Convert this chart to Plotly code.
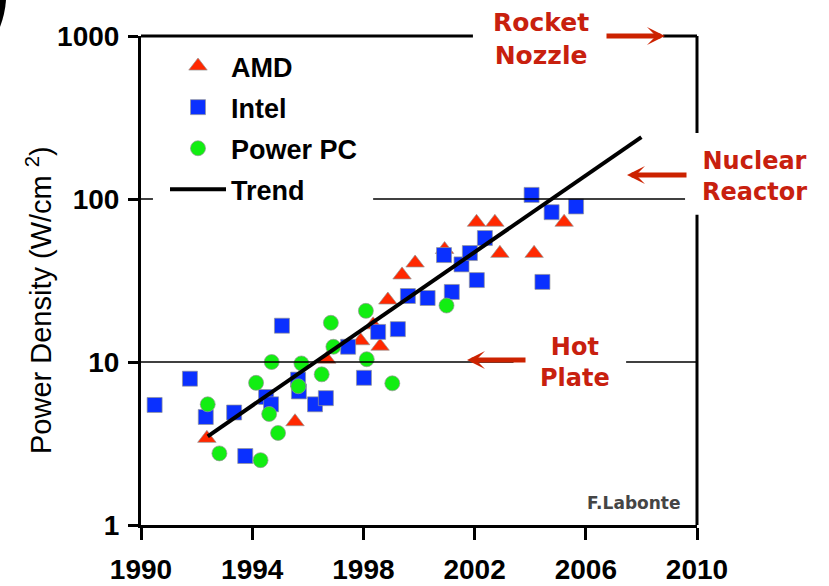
import math
import plotly.graph_objects as go

# ---- data -----------------------------------------------------------------
amd_year = [1992.37, 1995.54, 1996.68, 1997.90, 1998.35, 1998.60, 1998.88,
            1999.39, 1999.86, 2000.92, 2002.07, 2002.73, 2002.91, 2004.14, 2005.22]
amd_power = [3.4, 4.3, 10.4, 13.5, 16.9, 12.5, 24.0,
             34.2, 40.5, 49.0, 72.0, 72.0, 46.4, 46.4, 72.0]

intel_year = [1990.49, 1991.76, 1992.33, 1993.35, 1993.75, 1994.50, 1994.68,
              1995.07, 1995.65, 1995.68, 1996.26, 1996.65, 1997.45, 1998.02,
              1998.53, 1999.24, 1999.60, 2000.31, 2000.90, 2001.18, 2001.53,
              2001.83, 2002.08, 2002.37, 2004.05, 2004.44, 2004.77, 2005.65]
intel_power = [5.45, 7.9, 4.6, 4.9, 2.65, 6.1, 5.5,
               16.7, 7.8, 6.6, 5.5, 6.0, 12.4, 8.0,
               15.3, 15.9, 25.4, 24.7, 45.3, 26.9, 39.7,
               46.6, 31.8, 57.6, 106.0, 31.0, 83.0, 90.0]

ppc_year = [1992.40, 1992.82, 1994.14, 1994.30, 1994.61, 1994.70, 1994.93,
            1995.66, 1995.77, 1996.50, 1996.83, 1996.92, 1998.09, 1998.12,
            1999.04, 2000.99]
ppc_power = [5.5, 2.75, 7.45, 2.5, 4.8, 10.0, 3.67,
             7.1, 9.8, 8.4, 17.4, 12.4, 20.6, 10.4,
             7.4, 22.2]

trend_year = [1992.4, 2008.0]
trend_power = [3.5, 240.0]

x_ticks = [1990, 1994, 1998, 2002, 2006, 2010]
y_ticks = [1, 10, 100, 1000]
y_tick_text = ["1", "10", "100", "1000"]

# ---- layout geometry ------------------------------------------------------
W, H = 829, 586
L, R, T, B = 141, 697, 36, 525          # plot area in pixels
X_RANGE = (1990, 2010)
Y_RANGE = (0, 3)                        # log10 range

def px(x):            # pixel -> paper x
    return (x - L) / (R - L)

def py(y):            # pixel -> paper y
    return (B - y) / (B - T)

def dx(year):         # data year -> paper x
    return (year - X_RANGE[0]) / (X_RANGE[1] - X_RANGE[0])

def dy(val):          # data value -> paper y (log axis)
    return (math.log10(val) - Y_RANGE[0]) / (Y_RANGE[1] - Y_RANGE[0])

SANS = "Liberation Sans, Arial, sans-serif"
BOLD = "DejaVu Sans, Verdana, sans-serif"
RED = "#c8200e"
OUTLINE = dict(color="rgba(150,150,150,0.7)", width=1)

fig = go.Figure()
fig.add_trace(go.Scatter(
    x=amd_year, y=amd_power, mode="markers", name="AMD", legendgroup="a",
    marker=dict(symbol="triangle-up", size=16, color="#ff2800", line=OUTLINE)))
fig.add_trace(go.Scatter(
    x=intel_year, y=intel_power, mode="markers", name="Intel", legendgroup="b",
    marker=dict(symbol="square", size=15, color="#0a30ff", line=OUTLINE)))
fig.add_trace(go.Scatter(
    x=ppc_year, y=ppc_power, mode="markers", name="Power PC", legendgroup="c",
    marker=dict(symbol="circle", size=15, color="#12ee12", line=OUTLINE)))
fig.add_trace(go.Scatter(
    x=trend_year, y=trend_power, mode="lines", name="Trend", legendgroup="d",
    line=dict(color="black", width=4)))

shapes = []
# frame pieces that are interrupted by the labels
line3 = dict(color="black", width=3)
shapes.append(dict(type="line", xref="paper", yref="paper",
                   x0=0, x1=dx(2001.94), y0=1, y1=1, line=line3))
shapes.append(dict(type="line", xref="paper", yref="paper",
                   x0=dx(2008.78), x1=1, y0=1, y1=1, line=line3))
shapes.append(dict(type="line", xref="paper", yref="paper",
                   x0=1, x1=1, y0=1, y1=dy(254), line=line3))
shapes.append(dict(type="line", xref="paper", yref="paper",
                   x0=1, x1=1, y0=dy(80), y1=0, line=line3))
# reference levels
thin = dict(color="black", width=1.5)
shapes.append(dict(type="line", xref="paper", yref="paper",
                   x0=0, x1=dx(1990.43), y0=dy(100), y1=dy(100), line=thin))
shapes.append(dict(type="line", xref="paper", yref="paper",
                   x0=dx(1998.35), x1=dx(2009.57), y0=dy(100), y1=dy(100), line=thin))
shapes.append(dict(type="line", xref="paper", yref="paper",
                   x0=0, x1=dx(2003.4), y0=dy(10), y1=dy(10), line=thin))
shapes.append(dict(type="line", xref="paper", yref="paper",
                   x0=dx(2007.45), x1=1, y0=dy(10), y1=dy(10), line=thin))
# panel letter remnant in the top-left corner
shapes.append(dict(type="path", xref="paper", yref="paper", line=dict(width=0),
                   fillcolor="black",
                   path=f"M{px(0)},{py(0)} L{px(6)},{py(0)} "
                        f"Q{px(5)},{py(14)} {px(0)},{py(27)} Z"))

annotations = []

def label(text, cx, cy, size=25, color=RED, family=BOLD):
    annotations.append(dict(text=text, xref="paper", yref="paper",
                            x=px(cx), y=py(cy), xanchor="center", yanchor="middle",
                            showarrow=False, font=dict(family=family, size=size, color=color)))

def arrow(hx, hy, tx, ty):
    annotations.append(dict(text="", xref="paper", yref="paper",
                            x=px(hx), y=py(hy), ax=tx - hx, ay=ty - hy,
                            showarrow=True, arrowhead=3, arrowsize=0.6,
                            arrowwidth=5, arrowcolor="#cc2200", standoff=0))

label("<b>Rocket</b><br><b>Nozzle</b>", 541, 39)
label("<b>Nuclear</b><br><b>Reactor</b>", 754, 176, size=24)
label("<b>Hot</b><br><b>Plate</b>", 575, 362, size=24)
label("<b>F.Labonte</b>", 633, 503, size=17, color="#454545")
arrow(665, 36, 605, 36)
arrow(627, 175, 688, 175)
arrow(467, 360, 527, 360)

# y-axis title
annotations.append(dict(text="Power Density (W/cm <sup>2</sup>)", xref="paper", yref="paper",
                        x=px(39), y=py(300), xanchor="center", yanchor="middle",
                        textangle=-90, showarrow=False,
                        font=dict(family=SANS, size=29, color="black")))

fig.update_layout(
    width=W, height=H,
    margin=dict(l=L, r=W - R, t=T, b=H - B, autoexpand=False),
    paper_bgcolor="white", plot_bgcolor="white",
    shapes=shapes, annotations=annotations,
    showlegend=True,
    legend=dict(x=px(165), y=py(42), xanchor="left", yanchor="top",
                font=dict(family=SANS, size=27, color="black", weight="bold"),
                bgcolor="rgba(0,0,0,0)", itemwidth=56, traceorder="grouped",
                tracegroupgap=3),
    xaxis=dict(range=list(X_RANGE), tickvals=x_ticks, ticktext=[str(t) for t in x_ticks],
               ticks="outside", ticklen=12, tickwidth=3, tickcolor="black",
               showline=True, linewidth=3, linecolor="black", automargin=False,
               showgrid=False, zeroline=False, ticklabelstandoff=5,
               tickfont=dict(family=SANS, size=28, color="black", weight="bold")),
    yaxis=dict(type="log", range=list(Y_RANGE), tickvals=y_ticks, ticktext=y_tick_text,
               ticks="outside", ticklen=10, tickwidth=3, tickcolor="black",
               showline=True, linewidth=3, linecolor="black", automargin=False,
               showgrid=False, zeroline=False, ticklabelstandoff=3,
               tickfont=dict(family=SANS, size=28, color="black", weight="bold")),
)

fig.write_html("out.html")
